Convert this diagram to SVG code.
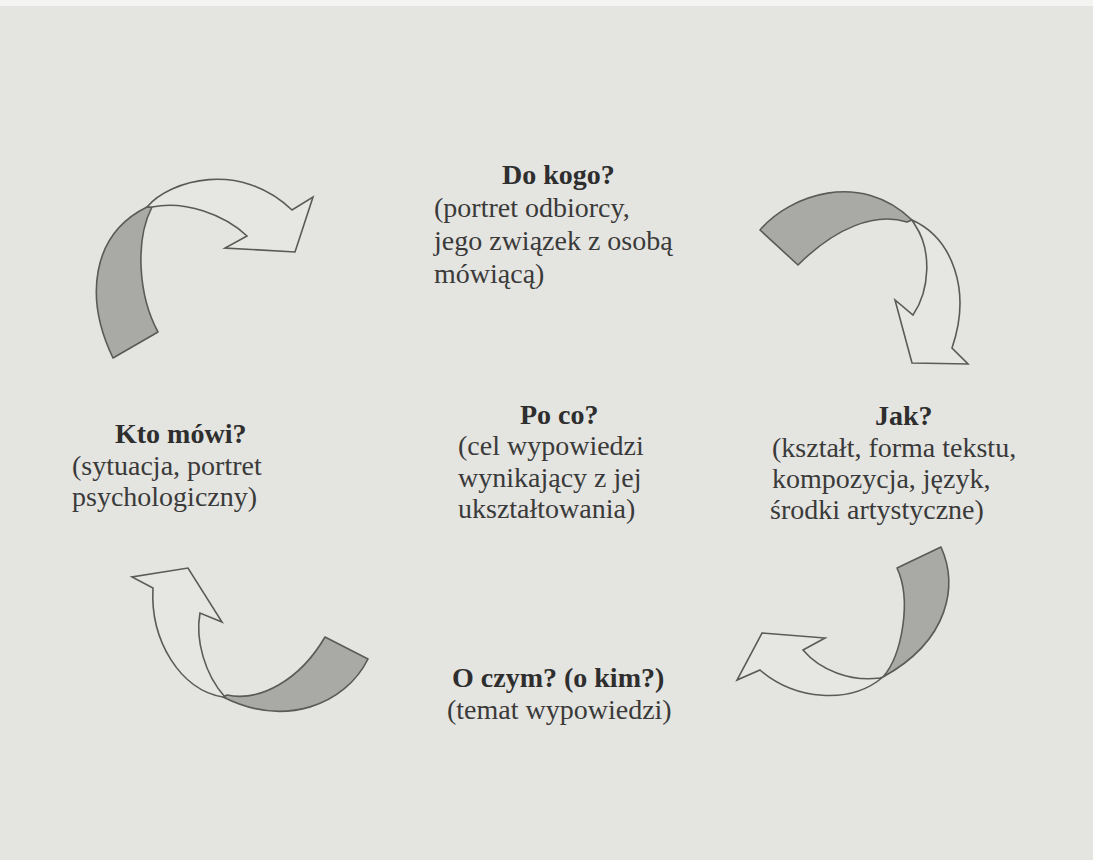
<svg xmlns="http://www.w3.org/2000/svg" width="1093" height="860" viewBox="0 0 1093 860">
<style>
.bg{fill:#e4e4e0}
.shade{fill:#a9a9a5;stroke:#5a5a58;stroke-width:1.6;stroke-linejoin:round}
.head{fill:#e6e6e2;stroke:#5a5a58;stroke-width:1.6;stroke-linejoin:miter}
.t{font-family:"Liberation Serif","Times New Roman",serif;font-size:28px;fill:#3a3a3a}
.b{font-weight:bold;fill:#2e2e2e}
</style>
<rect class="bg" x="0" y="0" width="1093" height="860"/>
<rect x="0" y="0" width="1093" height="6" fill="#f4f4f2"/>
<g id="connectors">
  <g id="arrow-top-left">
    <path class="shade" d="M113,358 C85,300 90,235 147,207 L152,207 C135,240 138,295 158,332 Z"/>
    <path class="head" d="M147,207 C170,180 240,160 292,210 L313,197 L295,252 L225,248 L247,236 C225,215 185,200 152,207 Z"/>
  </g>
  <g id="arrow-top-right">
    <path class="shade" d="M760,230 C790,195 860,170 912,220 L907,222 C875,212 835,228 798,265 Z"/>
    <path class="head" d="M912,220 C952,238 972,290 952,348 L968,364 L912,363 L895,300 L913,315 C930,290 932,250 915,225 Z"/>
  </g>
  <g id="arrow-bottom-right">
    <path class="shade" d="M897,568 L941,547 C958,585 950,640 883,677 C902,655 912,600 897,568 Z"/>
    <path class="head" d="M883,677 C850,705 795,700 760,670 L737,680 L762,633 L825,638 L803,650 C820,670 850,682 880,678 Z"/>
  </g>
  <g id="arrow-bottom-left">
    <path class="shade" d="M325,637 L368,659 C345,705 285,728 223,697 L227,695 C260,702 300,680 325,637 Z"/>
    <path class="head" d="M223,697 C180,690 150,640 153,588 L132,577 L188,568 L222,622 L200,613 C195,640 205,675 225,697 Z"/>
  </g>
</g>
<g id="node-do-kogo">
  <text class="t b" x="502" y="184">Do kogo?</text>
  <text class="t" x="434" y="217">(portret odbiorcy,</text>
  <text class="t" x="434" y="250">jego związek z osobą</text>
  <text class="t" x="434" y="283">mówiącą)</text>
</g>
<g id="node-kto-mowi">
  <text class="t b" x="115" y="443">Kto mówi?</text>
  <text class="t" x="72" y="475">(sytuacja, portret</text>
  <text class="t" x="72" y="506">psychologiczny)</text>
</g>
<g id="node-po-co">
  <text class="t b" x="520" y="424">Po co?</text>
  <text class="t" x="458" y="455">(cel wypowiedzi</text>
  <text class="t" x="458" y="487">wynikający z jej</text>
  <text class="t" x="458" y="518">ukształtowania)</text>
</g>
<g id="node-jak">
  <text class="t b" x="875" y="425">Jak?</text>
  <text class="t" x="772" y="457">(kształt, forma tekstu,</text>
  <text class="t" x="772" y="488">kompozycja, język,</text>
  <text class="t" x="770" y="519">środki artystyczne)</text>
</g>
<g id="node-o-czym">
  <text class="t b" x="452" y="687">O czym? (o kim?)</text>
  <text class="t" x="447" y="719">(temat wypowiedzi)</text>
</g>
</svg>
